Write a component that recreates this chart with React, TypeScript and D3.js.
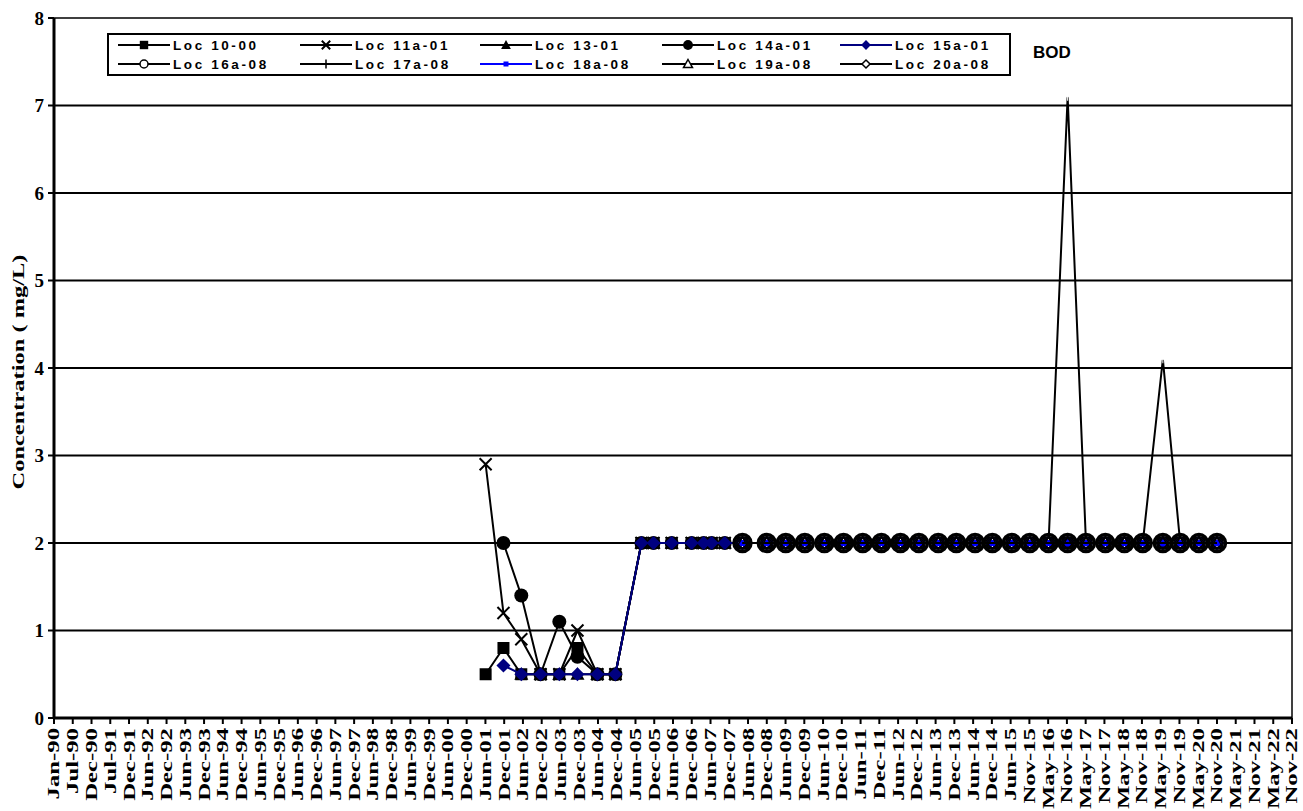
import React from "react";
import * as d3 from "d3";

const W = 1303;
const H = 811;

// Sampling dates (one per column of the series arrays)
const sampleDates = [
  "2001-06-20", "2001-12-10", "2002-06-01", "2002-12-05", "2003-06-05", "2003-11-28", "2004-06-08", "2004-11-30",
  "2005-08-10", "2005-12-05", "2006-05-30", "2006-12-10", "2007-04-05", "2007-06-22", "2007-10-27",
  "2008-04-16",
  "2008-12-08", "2009-06-10", "2009-12-12", "2010-06-20", "2010-12-23", "2011-06-27", "2011-12-25", "2012-06-27", "2012-12-23",
  "2013-06-29", "2013-12-21", "2014-06-21", "2014-12-06", "2015-06-12", "2015-12-04", "2016-06-03", "2016-12-05",
  "2017-06-01", "2017-12-06", "2018-06-09", "2018-12-04", "2019-06-17", "2019-12-02", "2020-06-01", "2020-11-23",
];

const N = null;
const loc10 = [0.5, 0.8, 0.5, 0.5, 0.5, 0.8, 0.5, 0.5, 2, 2, 2, 2, 2, 2, 2, 2, 2, 2, 2, 2, 2, 2, 2, 2, 2, 2, 2, 2, 2, 2, 2, 2, 2, 2, 2, 2, 2, 2, 2, 2, 2];
const loc11 = [2.9, 1.2, 0.9, 0.5, 0.5, 1.0, 0.5, 0.5, 2, 2, 2, 2, 2, 2, 2, 2, 2, 2, 2, 2, 2, 2, 2, 2, 2, 2, 2, 2, 2, 2, 2, 2, 2, 2, 2, 2, 2, 2, 2, 2, 2];
const loc13 = [N, N, 0.5, 0.5, 0.5, 0.5, 0.5, 0.5, 2, 2, 2, 2, 2, 2, 2, 2, 2, 2, 2, 2, 2, 2, 2, 2, 2, 2, 2, 2, 2, 2, 2, 2, 2, 2, 2, 2, 2, 2, 2, 2, 2];
const loc14 = [N, 2.0, 1.4, 0.5, 1.1, 0.7, 0.5, 0.5, 2, 2, 2, 2, 2, 2, 2, 2, 2, 2, 2, 2, 2, 2, 2, 2, 2, 2, 2, 2, 2, 2, 2, 2, 2, 2, 2, 2, 2, 2, 2, 2, 2];
const loc15 = [N, 0.6, 0.5, 0.5, 0.5, 0.5, 0.5, 0.5, 2, 2, 2, 2, 2, 2, 2, 2, 2, 2, 2, 2, 2, 2, 2, 2, 2, 2, 2, 2, 2, 2, 2, 2, 2, 2, 2, 2, 2, 2, 2, 2, 2];
const loc16 = [N, N, N, N, N, N, N, N, N, N, N, N, N, N, N, 2, 2, 2, 2, 2, 2, 2, 2, 2, 2, 2, 2, 2, 2, 2, 2, 2, 2, 2, 2, 2, 2, 2, 2, 2, 2];
const loc17 = [N, N, N, N, N, N, N, N, N, N, N, N, N, N, N, 2, 2, 2, 2, 2, 2, 2, 2, 2, 2, 2, 2, 2, 2, 2, 2, 2, 7.1, 2, 2, 2, 2, 4.1, 2, 2, 2];
const loc18 = [N, N, N, N, N, N, N, N, N, N, N, N, N, N, N, 2, 2, 2, 2, 2, 2, 2, 2, 2, 2, 2, 2, 2, 2, 2, 2, 2, 2, 2, 2, 2, 2, 2, 2, 2, 2];
const loc19 = [N, N, N, N, N, N, N, N, N, N, N, N, N, N, N, 2, 2, 2, 2, 2, 2, 2, 2, 2, 2, 2, 2, 2, 2, 2, 2, 2, 2, 2, 2, 2, 2, 2, 2, 2, 2];
const loc20 = [N, N, N, N, N, N, N, N, N, N, N, N, N, N, N, 2, 2, 2, 2, 2, 2, 2, 2, 2, 2, 2, 2, 2, 2, 2, 2, 2, 2, 2, 2, 2, 2, 2, 2, 2, 2];

const seriesNames = ["Loc 10-00", "Loc 11a-01", "Loc 13-01", "Loc 14a-01", "Loc 15a-01", "Loc 16a-08", "Loc 17a-08", "Loc 18a-08", "Loc 19a-08", "Loc 20a-08"];
const seriesValues = [loc10, loc11, loc13, loc14, loc15, loc16, loc17, loc18, loc19, loc20];
const seriesColors = ["#000000", "#000000", "#000000", "#000000", "#000080", "#000000", "#000000", "#0000ff", "#000000", "#000000"];
const seriesMarkers = ["square", "x", "triangle", "dot", "diamond", "ring", "plus", "smallsquare", "opentriangle", "opendiamond"];

const xTickLabels = [
  "Jan-90", "Jul-90", "Dec-90", "Jul-91", "Dec-91", "Jun-92", "Dec-92", "Jun-93", "Dec-93", "Jun-94", "Dec-94",
  "Jun-95", "Dec-95", "Jun-96", "Dec-96", "Jun-97", "Dec-97", "Jun-98", "Dec-98", "Jun-99", "Dec-99", "Jun-00",
  "Dec-00", "Jun-01", "Dec-01", "Jun-02", "Dec-02", "Jun-03", "Dec-03", "Jun-04", "Dec-04", "Jun-05", "Dec-05",
  "Jun-06", "Dec-06", "Jun-07", "Dec-07", "Jun-08", "Dec-08", "Jun-09", "Dec-09", "Jun-10", "Dec-10", "Jun-11",
  "Dec-11", "Jun-12", "Dec-12", "Jun-13", "Dec-13", "Jun-14", "Dec-14", "Jun-15", "Nov-15", "May-16", "Nov-16",
  "May-17", "Nov-17", "May-18", "Nov-18", "May-19", "Nov-19", "May-20", "Nov-20", "May-21", "Nov-21", "May-22", "Nov-22",
];
const yTicks = [0, 1, 2, 3, 4, 5, 6, 7, 8];

const DAY = 86400000;
const TICK_STEP_DAYS = 182;
const axisStart = Date.UTC(1990, 0, 1);

const plot = { left: 54, right: 1292, top: 18, bottom: 718 };

const serif = "'Liberation Serif', 'Times New Roman', serif";
const sans = "'Liberation Sans', Arial, sans-serif";

function Marker({ type, x, y, color, legend }: { type: string; x: number; y: number; color: string; legend?: boolean }) {
  const k = legend ? 0.7 : 1;
  switch (type) {
    case "square": {
      const s = 12 * k;
      return <rect x={x - s / 2} y={y - s / 2} width={s} height={s} fill="#000" />;
    }
    case "x": {
      const h = 6 * k;
      return <path d={`M${x - h},${y - h}L${x + h},${y + h}M${x - h},${y + h}L${x + h},${y - h}`} stroke="#000" strokeWidth={2} />;
    }
    case "triangle": {
      const h = 7 * k;
      return <path d={`M${x},${y - h}L${x + h},${y + h * 0.8}L${x - h},${y + h * 0.8}Z`} fill="#000" />;
    }
    case "dot":
      return <circle cx={x} cy={y} r={7 * k} fill="#000" />;
    case "diamond": {
      const h = 7 * k;
      return <path d={`M${x},${y - h}L${x + h},${y}L${x},${y + h}L${x - h},${y}Z`} fill={color} />;
    }
    case "ring":
      return <circle cx={x} cy={y} r={legend ? 4 : 8.5} fill={legend ? "#fff" : "none"} stroke="#000" strokeWidth={legend ? 1.5 : 3.5} />;
    case "plus": {
      const h = legend ? 4.5 : 4;
      return <path d={`M${x - h},${y}L${x + h},${y}M${x},${y - h}L${x},${y + h}`} stroke={legend ? "#000" : "#fff"} strokeWidth={legend ? 1.5 : 1} />;
    }
    case "smallsquare": {
      const s = legend ? 5 : 6;
      return <rect x={x - s / 2} y={y - s / 2} width={s} height={s} fill={color} />;
    }
    case "opentriangle": {
      const h = legend ? 4.5 : 6;
      return <path d={`M${x},${y - h}L${x + h},${y + h * 0.8}L${x - h},${y + h * 0.8}Z`} fill={legend ? "#fff" : "none"} stroke="#000" strokeWidth={1.5} />;
    }
    case "opendiamond": {
      const h = legend ? 4 : 6;
      return <path d={`M${x},${y - h}L${x + h},${y}L${x},${y + h}L${x - h},${y}Z`} fill={legend ? "#fff" : "none"} stroke="#000" strokeWidth={1.5} />;
    }
  }
  return null;
}

export default function App() {
  const xScale = d3
    .scaleUtc()
    .domain([new Date(axisStart), new Date(axisStart + (xTickLabels.length - 1) * TICK_STEP_DAYS * DAY)])
    .range([plot.left, plot.right]);
  const yScale = d3.scaleLinear().domain([0, 8]).range([plot.bottom, plot.top]);

  const dates = sampleDates.map((s) => new Date(s + "T00:00:00Z"));
  const tickDates = xTickLabels.map((_, i) => new Date(axisStart + i * TICK_STEP_DAYS * DAY));

  const lineGen = d3
    .line<number | null>()
    .defined((v) => v != null)
    .x((_, i) => xScale(dates[i]))
    .y((v) => yScale(v as number));

  const legendCols = [118, 300, 480, 662, 840];
  const legendRows = [45, 64];

  return (
    <svg width={W} height={H} style={{ position: "absolute", left: 0, top: 0, background: "#fff" }}>
      <rect x={0} y={0} width={W} height={H} fill="#fff" />
      {/* gridlines */}
      {yTicks.slice(1, -1).map((t) => (
        <line key={t} x1={plot.left} x2={plot.right} y1={yScale(t)} y2={yScale(t)} stroke="#000" strokeWidth={2} />
      ))}
      {/* frame */}
      <rect x={plot.left} y={plot.top} width={plot.right - plot.left} height={plot.bottom - plot.top} fill="none" stroke="#000" strokeWidth={1.5} />
      <line x1={plot.left} x2={plot.left} y1={plot.top} y2={plot.bottom} stroke="#000" strokeWidth={3} />
      <line x1={plot.left} x2={plot.right} y1={plot.bottom} y2={plot.bottom} stroke="#000" strokeWidth={3} />

      {/* y ticks */}
      {yTicks.map((t) => (
        <g key={t}>
          <line x1={plot.left - 6} x2={plot.left} y1={yScale(t)} y2={yScale(t)} stroke="#000" strokeWidth={2} />
          <text x={44} y={yScale(t)} textAnchor="end" dominantBaseline="central" fontFamily={serif} fontWeight="bold" fontSize={19}>
            {t}
          </text>
        </g>
      ))}
      <text
        transform={`translate(19,372) rotate(-90) scale(1.53,1)`}
        textAnchor="middle"
        dominantBaseline="central"
        fontFamily={serif}
        fontWeight="bold"
        fontSize={16}
      >
        Concentration ( mg/L)
      </text>

      {/* x ticks */}
      {tickDates.map((d, i) => {
        const x = xScale(d);
        return (
          <g key={i}>
            <line x1={x} x2={x} y1={plot.bottom} y2={plot.bottom + 6} stroke="#000" strokeWidth={2} />
            <text
              transform={`translate(${x},${plot.bottom + 10}) rotate(-90) scale(1.5,1)`}
              textAnchor="end"
              dominantBaseline="central"
              fontFamily={serif}
              fontWeight="bold"
              fontSize={16.5}
            >
              {xTickLabels[i]}
            </text>
          </g>
        );
      })}

      {/* series */}
      {seriesValues.map((vals, si) => (
        <g key={si}>
          <path d={lineGen(vals) || ""} fill="none" stroke={seriesColors[si]} strokeWidth={2} />
          {vals.map((v, i) =>
            v == null ? null : (
              <Marker key={i} type={seriesMarkers[si]} x={xScale(dates[i])} y={yScale(v)} color={seriesColors[si]} />
            )
          )}
        </g>
      ))}

      {/* legend */}
      <rect x={108} y={34} width={902} height={41} fill="#fff" stroke="#000" strokeWidth={2} />
      {seriesNames.map((name, i) => {
        const col = legendCols[i % 5];
        const row = legendRows[Math.floor(i / 5)];
        return (
          <g key={name}>
            <line x1={col} x2={col + 52} y1={row} y2={row} stroke={seriesColors[i]} strokeWidth={2} />
            <Marker type={seriesMarkers[i]} x={col + 26} y={row} color={seriesColors[i]} legend />
            <text x={col + 55} y={row} dominantBaseline="central" fontFamily={sans} fontWeight="bold" fontSize={13.5} letterSpacing={2.6}>
              {name}
            </text>
          </g>
        );
      })}
      <text x={1033} y={52} dominantBaseline="central" fontFamily={sans} fontWeight="bold" fontSize={17}>
        BOD
      </text>
    </svg>
  );
}
